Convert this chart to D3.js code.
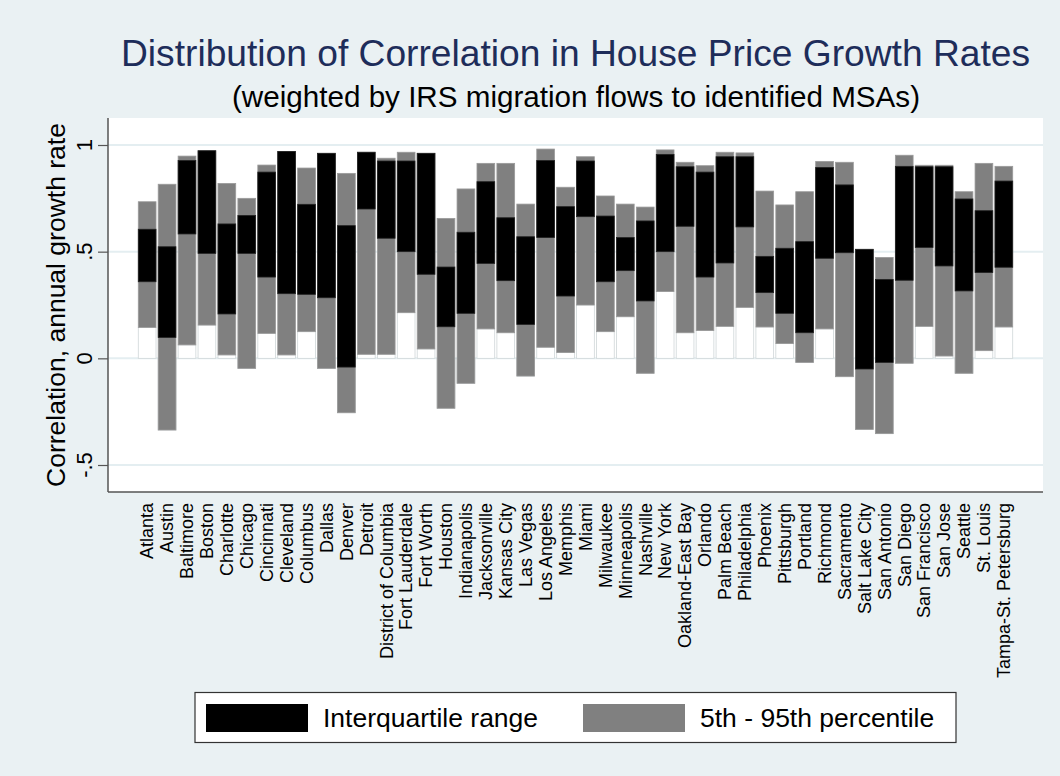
<!DOCTYPE html>
<html>
<head>
<meta charset="utf-8">
<script src="https://cdn.jsdelivr.net/npm/d3@7"></script>
<style>
  body { margin: 0; background: #eaf1f3; }
  text { font-family: "Liberation Sans", Arial, sans-serif; }
</style>
</head>
<body>
<script>
// house price correlation chart

const cities = ['Atlanta', 'Austin', 'Baltimore', 'Boston', 'Charlotte', 'Chicago', 'Cincinnati', 'Cleveland',
    'Columbus', 'Dallas', 'Denver', 'Detroit', 'District of Columbia', 'Fort Lauderdale', 'Fort Worth', 'Houston',
    'Indianapolis', 'Jacksonville', 'Kansas City', 'Las Vegas', 'Los Angeles', 'Memphis', 'Miami', 'Milwaukee',
    'Minneapolis', 'Nashville', 'New York', 'Oakland-East Bay', 'Orlando', 'Palm Beach', 'Philadelphia', 'Phoenix',
    'Pittsburgh', 'Portland', 'Richmond', 'Sacramento', 'Salt Lake City', 'San Antonio', 'San Diego',
    'San Francisco', 'San Jose', 'Seattle', 'St. Louis', 'Tampa-St. Petersburg']

// percentiles
const p95 = [.734, .816, .948, .973, .820, .750, .906, .970, .892, .961, .867, .966, .938, .966, .961, .656,
    .794, .914, .914, .723, .981, .802, .945, .761, .723, .709, .977, .919, .903, .966, .963, .784,
    .719, .781, .923, .919, .511, .473, .952, .905, .905, .781, .914, .900]
const p75 = [.605, .523, .927, .973, .630, .670, .873, .970, .722, .961, .622, .966, .925, .925, .961, .428,
    .591, .828, .659, .570, .927, .711, .925, .667, .566, .644, .956, .898, .873, .945, .945, .478,
    .516, .547, .895, .813, .511, .370, .900, .898, .898, .747, .692, .831]
const p25 = [.359, .098, .583, .492, .208, .492, .381, .303, .300, .284, -.041, .700, .563, .500, .394, .148,
    .211, .445, .364, .159, .566, .292, .664, .359, .411, .269, .500, .619, .381, .447, .616, .308,
    .211, .120, .469, .495, -.050, -.019, .366, .520, .433, .316, .402, .427]
const p5 = [.145, -.336, .063, .156, .016, -.047, .117, .016, .125, -.047, -.255, .019, .019, .214, .044, -.234,
    -.117, .138, .120, -.083, .052, .027, .250, .125, .195, -.070, .313, .120, .130, .150, .239, .147,
    .069, -.019, .138, -.086, -.333, -.353, -.023, .150, .011, -.070, .036, .147]

const yTicks = [-.5, 0, .5, 1]
const yTickLabels = ['-.5', '0', '.5', '1']
const legendItems = ['Interquartile range', '5th - 95th percentile']

const W = 1060, H = 776
const plot = { left: 108, right: 1043, top: 118, bottom: 492 }

var svg = d3.select('body')
    .append('svg')
    .attr('width', W)
    .attr('height', H)

svg.append('rect')
    .attr('width', W)
    .attr('height', H)
    .attr('fill', '#eaf1f3')

// white plot region
svg.append('rect')
    .attr('x', plot.left)
    .attr('y', plot.top)
    .attr('width', plot.right - plot.left)
    .attr('height', plot.bottom - plot.top)
    .attr('fill', '#fff')

var x = d3.scaleBand()
    .domain(cities)
    .range([plot.left, plot.right])
    .paddingInner(0.11)
    .paddingOuter(1.52)

var y = d3.scaleLinear()
    .domain([-0.5, 1])
    .range([465, 145])

// grid lines
svg.selectAll('.grid')
    .data(yTicks)
    .enter()
    .append('line')
    .attr('class', 'grid')
    .attr('x1', plot.left)
    .attr('x2', plot.right)
    .attr('y1', d => y(d))
    .attr('y2', d => y(d))
    .attr('stroke', '#e4eef1')
    .attr('stroke-width', 2)

var data = cities.map((c, i) => ({ city: c, p5: p5[i], p25: p25[i], p75: p75[i], p95: p95[i] }))

// white bar from 0 up to the 5th pct, sits under the grey range
svg.selectAll('.base')
    .data(data)
    .enter()
    .append('rect')
    .attr('class', 'base')
    .attr('x', d => x(d.city))
    .attr('width', x.bandwidth())
    .attr('y', d => y(Math.max(0, d.p5)))
    .attr('height', d => Math.abs(y(0) - y(d.p5)))
    .attr('fill', '#fff')
    .attr('stroke', '#cfd6d8')
    .attr('stroke-width', 0.8)

svg.selectAll('.outer')
    .data(data)
    .enter()
    .append('rect')
    .attr('class', 'outer')
    .attr('x', d => x(d.city))
    .attr('width', x.bandwidth())
    .attr('y', d => y(d.p95))
    .attr('height', d => y(d.p5) - y(d.p95))
    .attr('fill', '#808080')
    .attr('stroke', '#9a9a9a')
    .attr('stroke-width', 0.8)

svg.selectAll('.iqr')
    .data(data)
    .enter()
    .append('rect')
    .attr('class', 'iqr')
    .attr('x', d => x(d.city))
    .attr('width', x.bandwidth())
    .attr('y', d => y(d.p75))
    .attr('height', d => y(d.p25) - y(d.p75))
    .attr('fill', '#000')
    .attr('stroke', '#222')
    .attr('stroke-width', 0.8)

// axes, drawn by hand-ish to get the stata look
var yAxis = svg.append('g')
    .attr('transform', `translate(${plot.left},0)`)
    .call(d3.axisLeft(y).tickValues(yTicks).tickSize(10).tickFormat(''))
yAxis.select('.domain').remove()
yAxis.selectAll('line').attr('stroke', '#555').attr('stroke-width', 1.2)

svg.selectAll('.ylab')
    .data(yTicks)
    .enter()
    .append('text')
    .attr('class', 'ylab')
    .attr('transform', d => `translate(92,${y(d)}) rotate(-90)`)
    .attr('text-anchor', 'middle')
    .style('font-size', '22px')
    .text((d, i) => yTickLabels[i])

svg.append('line')
    .attr('x1', plot.left).attr('x2', plot.left)
    .attr('y1', plot.top).attr('y2', plot.bottom)
    .attr('stroke', '#555').attr('stroke-width', 1.5)
svg.append('line')
    .attr('x1', plot.left).attr('x2', plot.right)
    .attr('y1', plot.bottom).attr('y2', plot.bottom)
    .attr('stroke', '#555').attr('stroke-width', 1.5)

// city names
svg.selectAll('.xlab')
    .data(cities)
    .enter()
    .append('text')
    .attr('class', 'xlab')
    .attr('transform', d => `translate(${x(d) + x.bandwidth() / 2},503) rotate(-90)`)
    .attr('dy', '0.35em')
    .attr('text-anchor', 'end')
    .style('font-size', '18px')
    .text(d => d)

svg.append('text')
    .attr('transform', 'translate(65,305) rotate(-90)')
    .attr('text-anchor', 'middle')
    .style('font-size', '26.5px')
    .text('Correlation, annual growth rate')

// titles
svg.append('text')
    .attr('x', 575.5)
    .attr('y', 66)
    .attr('text-anchor', 'middle')
    .attr('fill', '#1e2d5a')
    .attr('textLength', 909)
    .attr('lengthAdjust', 'spacingAndGlyphs')
    .style('font-size', '36.5px')
    .text('Distribution of Correlation in House Price Growth Rates')

svg.append('text')
    .attr('x', 576)
    .attr('y', 107)
    .attr('text-anchor', 'middle')
    .attr('textLength', 688)
    .attr('lengthAdjust', 'spacingAndGlyphs')
    .style('font-size', '29px')
    .text('(weighted by IRS migration flows to identified MSAs)')

// legend
var lg = svg.append('g')
lg.append('rect')
    .attr('x', 195).attr('y', 692.5)
    .attr('width', 761).attr('height', 50)
    .attr('fill', '#fff')
    .attr('stroke', '#333')
    .attr('stroke-width', 1.2)

var swatchX = [206, 583]
var swatchFill = ['#000', '#808080']
legendItems.forEach(function(t, i) {
    lg.append('rect')
        .attr('x', swatchX[i]).attr('y', 704)
        .attr('width', 102).attr('height', 28)
        .attr('fill', swatchFill[i])
    lg.append('text')
        .attr('x', swatchX[i] + 117)
        .attr('y', 727)
        .style('font-size', '26.5px')
        .text(t)
})
</script>
</body>
</html>
